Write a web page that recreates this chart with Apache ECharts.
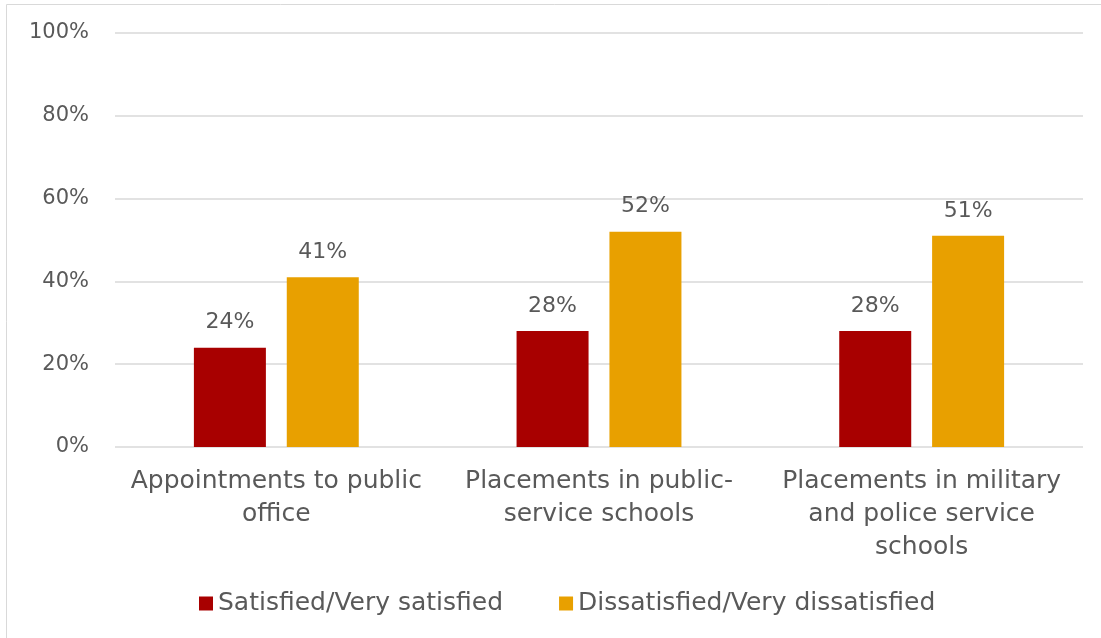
<!DOCTYPE html>
<html>
<head>
<meta charset="utf-8">
<script src="https://cdn.jsdelivr.net/npm/echarts@6/dist/echarts.min.js"></script>
<style>
  html, body { margin: 0; padding: 0; background: #ffffff; }
  #chart { width: 1101px; height: 638px; }
</style>
</head>
<body>
<div id="chart"></div>
<script>
// Satisfaction with how positions and placements are allocated
const categories = [
  'Appointments to public\noffice',
  'Placements in public-\nservice schools',
  'Placements in military\nand police service\nschools'
];
const seriesNames = ['Satisfied/Very satisfied', 'Dissatisfied/Very dissatisfied'];
const satisfied = [24, 28, 28];
const dissatisfied = [41, 52, 51];
const yTicks = [0, 20, 40, 60, 80, 100];

const FONT = 'DejaVu Sans';
const TEXT = '#595959';

const chart = echarts.init(document.getElementById('chart'), null, { renderer: 'canvas' });

const labelStyle = {
  show: true,
  position: 'top',
  distance: 14,
  formatter: p => p.value + '%',
  color: TEXT,
  fontFamily: FONT,
  fontSize: 22
};

chart.setOption({
  animation: false,
  textStyle: { fontFamily: FONT },
  graphic: [{
    type: 'rect',
    shape: { x: 6.5, y: 4.5, width: 1200, height: 700 },
    style: { fill: 'none', stroke: '#d9d9d9', lineWidth: 1 },
    silent: true
  }],
  grid: { left: 115, right: 18, top: 33, bottom: 191, containLabel: false },
  legend: {
    top: 591,
    left: 199,
    padding: 0,
    itemWidth: 14,
    itemHeight: 14,
    itemGap: 56,
    icon: 'rect',
    textStyle: { color: TEXT, fontFamily: FONT, fontSize: 25 },
    data: seriesNames
  },
  xAxis: {
    type: 'category',
    data: categories,
    axisLine: { show: false },
    axisTick: { show: false },
    axisLabel: {
      color: TEXT,
      fontFamily: FONT,
      fontSize: 25,
      lineHeight: 33,
      margin: 18,
      interval: 0
    }
  },
  yAxis: {
    type: 'value',
    min: yTicks[0],
    max: yTicks[yTicks.length - 1],
    interval: yTicks[1] - yTicks[0],
    axisLine: { show: false },
    axisTick: { show: false },
    splitLine: { lineStyle: { color: '#d9d9d9', width: 1.5 } },
    axisLabel: {
      color: TEXT,
      fontFamily: FONT,
      fontSize: 21,
      margin: 26,
      padding: [3, 0, 0, 0],
      formatter: v => v + '%'
    }
  },
  series: [
    {
      name: seriesNames[0],
      type: 'bar',
      data: satisfied,
      barWidth: 72,
      barGap: '29%',
      itemStyle: { color: '#A80000' },
      label: labelStyle
    },
    {
      name: seriesNames[1],
      type: 'bar',
      data: dissatisfied,
      barWidth: 72,
      itemStyle: { color: '#E8A000' },
      label: labelStyle
    }
  ]
});
</script>
</body>
</html>
